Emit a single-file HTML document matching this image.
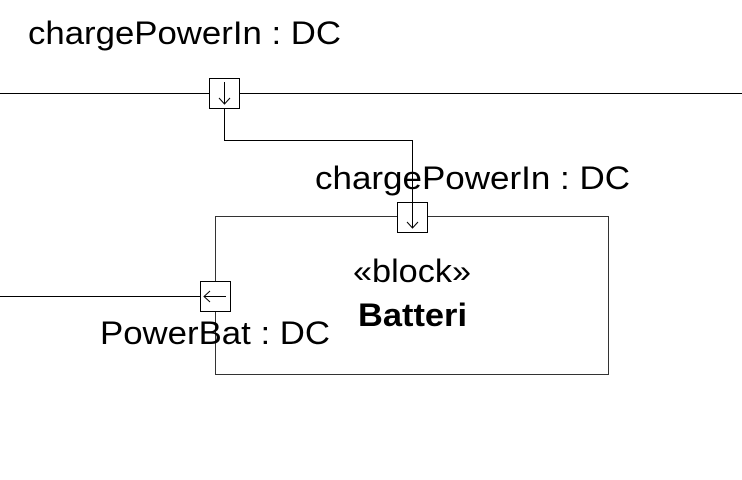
<html><body style="margin:0;background:#fff">
<svg width="742" height="480" xmlns="http://www.w3.org/2000/svg" style="display:block">
<g fill="none" stroke-width="1">
<line x1="0" y1="93.5" x2="742" y2="93.5" stroke="#000"/>
<polyline points="224.5,83 224.5,140.5 412.5,140.5 412.5,227" stroke="#000"/>
<rect x="215.5" y="216.5" width="393" height="158" stroke="#333"/>
<line x1="0" y1="296.5" x2="215" y2="296.5" stroke="#000"/>
<rect x="209.5" y="78.5" width="30" height="30" fill="#fff" stroke="#000"/>
<line x1="224.5" y1="82" x2="224.5" y2="104" stroke="#000"/>
<polyline points="219,98 224.5,104 230,98" stroke="#000"/>
<rect x="397.5" y="202.5" width="30" height="30" fill="#fff" stroke="#000"/>
<line x1="412.5" y1="202" x2="412.5" y2="228" stroke="#000"/>
<polyline points="407,222 412.5,228 418,222" stroke="#000"/>
<rect x="200.5" y="281.5" width="30" height="30" fill="#fff" stroke="#000"/>
<line x1="204" y1="296.5" x2="226" y2="296.5" stroke="#000"/>
<polyline points="210,291 204,296.5 210,302" stroke="#000"/>
</g>
<g font-family="Liberation Sans, sans-serif" font-size="32" fill="#000">
<text x="28" y="44" textLength="313" lengthAdjust="spacingAndGlyphs">chargePowerIn : DC</text>
<text x="315" y="189" textLength="315" lengthAdjust="spacingAndGlyphs">chargePowerIn : DC</text>
<text x="100" y="344" textLength="230" lengthAdjust="spacingAndGlyphs">PowerBat : DC</text>
<text x="353" y="282" textLength="118" lengthAdjust="spacingAndGlyphs">«block»</text>
<text x="358" y="326" font-weight="bold" textLength="109" lengthAdjust="spacingAndGlyphs">Batteri</text>
</g>
</svg>
</body></html>
